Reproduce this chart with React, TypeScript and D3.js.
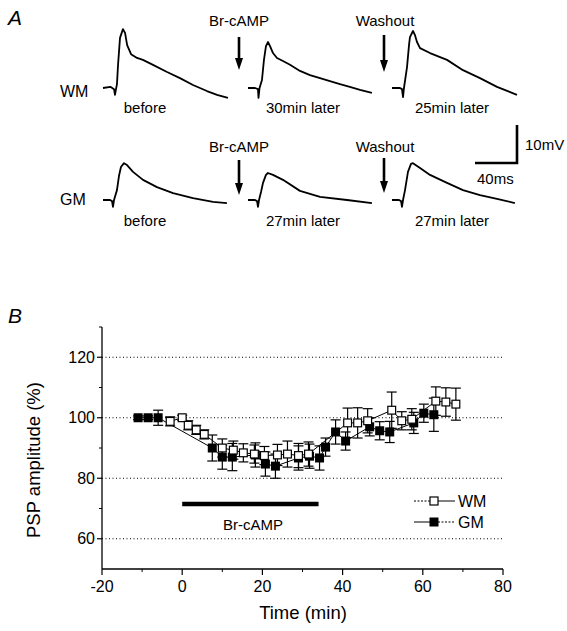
import React from 'react';
import * as d3 from 'd3';

const W = 567;
const H = 631;
const FONT = '"Liberation Sans", Arial, sans-serif';

// ---------- Panel A: traces (time in ms from trace start, voltage in mV re baseline)
const wmBeforeT = [0, 7, 10.5, 11.4, 12.4, 13.3, 14.3, 16.2, 19, 21, 23, 26.7, 32.4, 38, 47.6, 61, 73.3, 85.7, 99, 108.6, 119];
const wmBeforeV = [0, 0.3, -0.3, -1.8, -0.3, 1, 6, 13.2, 15.5, 14.5, 11.3, 8.9, 7.9, 7.4, 6.1, 4.2, 2.6, 0.8, -0.8, -1.8, -2.6];
const wmDrugT = [0, 6.7, 9.5, 10, 11, 13.3, 15.2, 17.1, 19, 21, 23.8, 27.6, 33.3, 40, 49.5, 59, 68.6, 78, 87.6, 97, 106.7, 118];
const wmDrugV = [0, 0, -0.3, -2.6, 0, 2.1, 7.4, 11, 12.1, 11, 9.2, 7.9, 7.1, 6.1, 4.5, 3.4, 2.6, 1.8, 1, 0.3, -0.5, -1.3];
const wmWashT = [0, 7.6, 9.5, 10.5, 11.4, 14.3, 16.2, 17.1, 20, 21.9, 23.8, 26.7, 36.2, 52.4, 67.6, 83.8, 100, 119];
const wmWashV = [0, 0, -0.3, -2.4, 0, 5.5, 11.3, 13.4, 15, 13.9, 12.1, 10.5, 9.2, 7.4, 4.7, 2.6, 0.3, -1.8];
const gmBeforeT = [0, 6.7, 8.6, 9.5, 10.5, 13.3, 15.2, 17.1, 20, 22.9, 28.6, 38.1, 51.4, 66.7, 85.7, 104.8, 118];
const gmBeforeV = [0, 0, -0.3, -1.8, 0, 2.6, 6.3, 8.7, 9.7, 9.2, 7.4, 5.3, 3.4, 1.8, 0.5, -0.5, -0.8];
const gmDrugT = [0, 6.7, 8.6, 9.5, 10.5, 12.4, 14.3, 17.1, 19, 23.8, 33.3, 49.5, 68.6, 94.3, 118];
const gmDrugV = [0, 0, -0.3, -1.8, 0, 2.1, 4.5, 6.6, 7.1, 6.6, 5.3, 2.4, 0.8, 0, -0.8];
const gmWashT = [0, 6.7, 8.6, 9.5, 10.5, 12.4, 15.2, 18.1, 20, 26.7, 36.2, 52.4, 67.6, 83.8, 100, 117];
const gmWashV = [0, 0, -0.3, -1.8, 0, 2.6, 7.4, 9.5, 9.7, 8.4, 6.6, 4.5, 2.6, 1.3, 0.3, -0.8];

const traceLabelsWM = ['before', '30min later', '25min later'];
const traceLabelsGM = ['before', '27min later', '27min later'];
const rowLabels = ['WM', 'GM'];
const scaleBarMs = 40;
const scaleBarMV = 10;

// ---------- Panel B data
const gmTime = [-11, -8.5, -6, 7.5, 10, 12.5, 18.25, 20.75, 23.25, 29, 31.75, 34.25, 35.75, 38.25, 40.75, 46.75, 49.25, 51.75, 57.75, 60.25, 62.75];
const gmMean = [100, 100, 100, 90, 87, 87, 87.7, 84.7, 84, 86.7, 87.3, 86.7, 90.3, 95.3, 92.3, 97, 95.7, 95.3, 98.3, 101.5, 101];
const gmErr = [0.6, 0.6, 2.5, 4.3, 4, 4.5, 4, 4, 4, 4, 4, 4, 3, 4, 3, 3, 3, 3.5, 3.5, 3, 5.5];

const wmTime = [-3, 0, 1.5, 3.5, 5.5, 10, 12.75, 15.25, 18, 20.5, 23.75, 26.25, 29, 31.5, 41.25, 43.75, 46.25, 52.25, 54.75, 57.25, 63.25, 65.75, 68.25];
const wmMean = [98.8, 100, 97.5, 96, 94.5, 90, 89.3, 88.4, 88, 87.5, 87.7, 88, 87.5, 88, 98.3, 98.3, 99, 102.5, 99, 99.5, 105.5, 105.2, 104.5];
const wmErr = [1.5, 0.8, 1.5, 1.5, 1.5, 3, 3, 3, 3, 3, 3.5, 4.3, 4, 4, 4.9, 5, 4, 6, 3, 3.5, 4.7, 4.7, 5.3];

const drugStart = 0;
const drugEnd = 34;
const drugBarLevel = 71.5;

const xTicks = [-20, 0, 20, 40, 60, 80];
const xMinor = [-10, 10, 30, 50, 70];
const yTicks = [60, 80, 100, 120];
const yMinor = [70, 90, 110, 130];
const gridLevels = [60, 80, 100, 120];

export default function App() {
  // Panel A scales
  const msScale = d3.scaleLinear().domain([0, 40]).range([0, 42]);
  const mvScale = d3.scaleLinear().domain([0, 10]).range([0, -38]);
  const traceLine = d3
    .line<[number, number]>()
    .x((d) => msScale(d[0]))
    .y((d) => mvScale(d[1]))
    .curve(d3.curveLinear);

  const colX = [103, 248, 392];
  const rowY = [88, 200];
  const traces = [
    [wmBeforeT, wmBeforeV],
    [wmDrugT, wmDrugV],
    [wmWashT, wmWashV],
    [gmBeforeT, gmBeforeV],
    [gmDrugT, gmDrugV],
    [gmWashT, gmWashV],
  ];

  // Panel B scales
  const x = d3.scaleLinear().domain([-20, 80]).range([102, 503]);
  const y = d3.scaleLinear().domain([50, 130]).range([569, 327]);
  const line = d3
    .line<number>()
    .x((d) => d)
    .y((d) => d);

  const seriesPath = (ts: number[], ms: number[]) =>
    d3
      .line<number>()
      .x((_, i) => x(ts[i]))
      .y((_, i) => y(ms[i]))(ts) || '';

  const sq = 9;

  const arrow = (cx: number, y1: number, y2: number, key: string) => (
    <g key={key}>
      <line x1={cx} x2={cx} y1={y1} y2={y2 - 10} stroke="#000" strokeWidth={2.6} />
      <path d={`M${cx - 4},${y2 - 12} L${cx + 4},${y2 - 12} L${cx},${y2} Z`} fill="#000" />
    </g>
  );

  const renderErr = (ts: number[], ms: number[], es: number[], k: string) =>
    ts.map((t, i) => {
      const cx = x(t);
      const yt = y(ms[i] + es[i]);
      const yb = y(ms[i] - es[i]);
      return (
        <g key={k + i} stroke="#000" strokeWidth={1.2}>
          <line x1={cx} x2={cx} y1={yt} y2={yb} />
          <line x1={cx - 5} x2={cx + 5} y1={yt} y2={yt} />
          <line x1={cx - 5} x2={cx + 5} y1={yb} y2={yb} />
        </g>
      );
    });

  return (
    <svg
      width={W}
      height={H}
      viewBox={`0 0 ${W} ${H}`}
      style={{ position: 'absolute', left: 0, top: 0, background: '#fff' }}
      fontFamily={FONT}
    >
      <rect x={0} y={0} width={W} height={H} fill="#fff" />
      {/* ---------------- Panel A ---------------- */}
      <text x={8} y={25} fontSize={21} fontStyle="italic">A</text>
      {rowLabels.map((lab, r) => (
        <text key={lab} x={60} y={[97, 205][r]} fontSize={16}>{lab}</text>
      ))}
      {traces.map((tr, i) => {
        const r = Math.floor(i / 3);
        const c = i % 3;
        const pts: [number, number][] = tr[0].map((t, j) => [t, tr[1][j]]);
        return (
          <path
            key={'tr' + i}
            transform={`translate(${colX[c]},${rowY[r]})`}
            d={traceLine(pts) || ''}
            fill="none"
            stroke="#000"
            strokeWidth={1.8}
            strokeLinejoin="round"
          />
        );
      })}
      {traceLabelsWM.map((lab, c) => (
        <text key={'lw' + c} x={[145, 303, 452][c]} y={113} fontSize={15} textAnchor="middle">{lab}</text>
      ))}
      {traceLabelsGM.map((lab, c) => (
        <text key={'lg' + c} x={[145, 303, 452][c]} y={226} fontSize={15} textAnchor="middle">{lab}</text>
      ))}
      <text x={239} y={26} fontSize={15} textAnchor="middle">Br-cAMP</text>
      <text x={385} y={26} fontSize={15} textAnchor="middle">Washout</text>
      <text x={239} y={152} fontSize={15} textAnchor="middle">Br-cAMP</text>
      <text x={385} y={152} fontSize={15} textAnchor="middle">Washout</text>
      {arrow(239, 37, 70, 'a1')}
      {arrow(384, 35, 72, 'a2')}
      {arrow(239, 160, 195, 'a3')}
      {arrow(384, 158, 193, 'a4')}
      {/* scale bar */}
      <g transform="translate(517,163)">
        <path
          d={`M${-msScale(scaleBarMs)},0 L0,0 L0,${mvScale(scaleBarMV)}`}
          fill="none"
          stroke="#000"
          strokeWidth={2.6}
        />
      </g>
      <text x={525} y={150} fontSize={15}>10mV</text>
      <text x={477} y={184} fontSize={15}>40ms</text>

      {/* ---------------- Panel B ---------------- */}
      <text x={8} y={323} fontSize={21} fontStyle="italic">B</text>
      {gridLevels.map((g) => (
        <line
          key={'g' + g}
          x1={x(-20)}
          x2={x(80)}
          y1={y(g)}
          y2={y(g)}
          stroke="#000"
          strokeWidth={1}
          strokeDasharray="1,2.5"
        />
      ))}
      {/* axes */}
      <line x1={x(-20)} x2={x(-20)} y1={y(130)} y2={y(50)} stroke="#000" strokeWidth={1.3} />
      <line x1={x(-20)} x2={x(80)} y1={y(50)} y2={y(50)} stroke="#000" strokeWidth={1.3} />
      {yTicks.map((t) => (
        <g key={'yt' + t}>
          <line x1={x(-20) - 5} x2={x(-20)} y1={y(t)} y2={y(t)} stroke="#000" strokeWidth={1.2} />
          <text x={x(-20) - 7} y={y(t)} fontSize={16} textAnchor="end" dominantBaseline="central">{t}</text>
        </g>
      ))}
      {yMinor.map((t) => (
        <line key={'ym' + t} x1={x(-20) - 3} x2={x(-20)} y1={y(t)} y2={y(t)} stroke="#000" strokeWidth={1} />
      ))}
      {xTicks.map((t) => (
        <g key={'xt' + t}>
          <line x1={x(t)} x2={x(t)} y1={y(50)} y2={y(50) + 6} stroke="#000" strokeWidth={1.2} />
          <text x={x(t)} y={592} fontSize={16} textAnchor="middle">{t}</text>
        </g>
      ))}
      {xMinor.map((t) => (
        <line key={'xm' + t} x1={x(t)} x2={x(t)} y1={y(50)} y2={y(50) + 3} stroke="#000" strokeWidth={1} />
      ))}
      <text x={303} y={619} fontSize={18.5} textAnchor="middle">Time (min)</text>
      <text
        transform={`translate(40,${460}) rotate(-90)`}
        fontSize={18.5}
        textAnchor="middle"
      >
        PSP amplitude (%)
      </text>

      {/* drug bar */}
      <line
        x1={x(drugStart)}
        x2={x(drugEnd)}
        y1={y(drugBarLevel)}
        y2={y(drugBarLevel)}
        stroke="#000"
        strokeWidth={4.5}
      />
      <text x={253} y={530} fontSize={15} textAnchor="middle">Br-cAMP</text>

      {/* series lines */}
      <path d={seriesPath(gmTime, gmMean)} fill="none" stroke="#000" strokeWidth={1} />
      <path d={seriesPath(wmTime, wmMean)} fill="none" stroke="#000" strokeWidth={1} />
      {renderErr(gmTime, gmMean, gmErr, 'ge')}
      {renderErr(wmTime, wmMean, wmErr, 'we')}
      {gmTime.map((t, i) => (
        <rect key={'gm' + i} x={x(t) - sq / 2} y={y(gmMean[i]) - sq / 2} width={sq} height={sq} fill="#000" />
      ))}
      {wmTime.map((t, i) => (
        <rect
          key={'wm' + i}
          x={x(t) - sq / 2 + 0.6}
          y={y(wmMean[i]) - sq / 2 + 0.6}
          width={sq - 1.2}
          height={sq - 1.2}
          fill="#fff"
          stroke="#000"
          strokeWidth={1.2}
        />
      ))}

      {/* legend */}
      <g>
        <line x1={414} x2={430} y1={501} y2={501} stroke="#000" strokeWidth={1} strokeDasharray="2,1.5" />
        <line x1={438} x2={455} y1={501} y2={501} stroke="#000" strokeWidth={1} />
        <rect x={430} y={497} width={8} height={8} fill="#fff" stroke="#000" strokeWidth={1.2} />
        <text x={458} y={501} fontSize={16} dominantBaseline="central">WM</text>
        <line x1={414} x2={430} y1={522} y2={522} stroke="#000" strokeWidth={1} />
        <line x1={438} x2={455} y1={522} y2={522} stroke="#000" strokeWidth={1} strokeDasharray="2,1.5" />
        <rect x={429.5} y={517.5} width={9} height={9} fill="#000" />
        <text x={458} y={522} fontSize={16} dominantBaseline="central">GM</text>
      </g>
    </svg>
  );
}
